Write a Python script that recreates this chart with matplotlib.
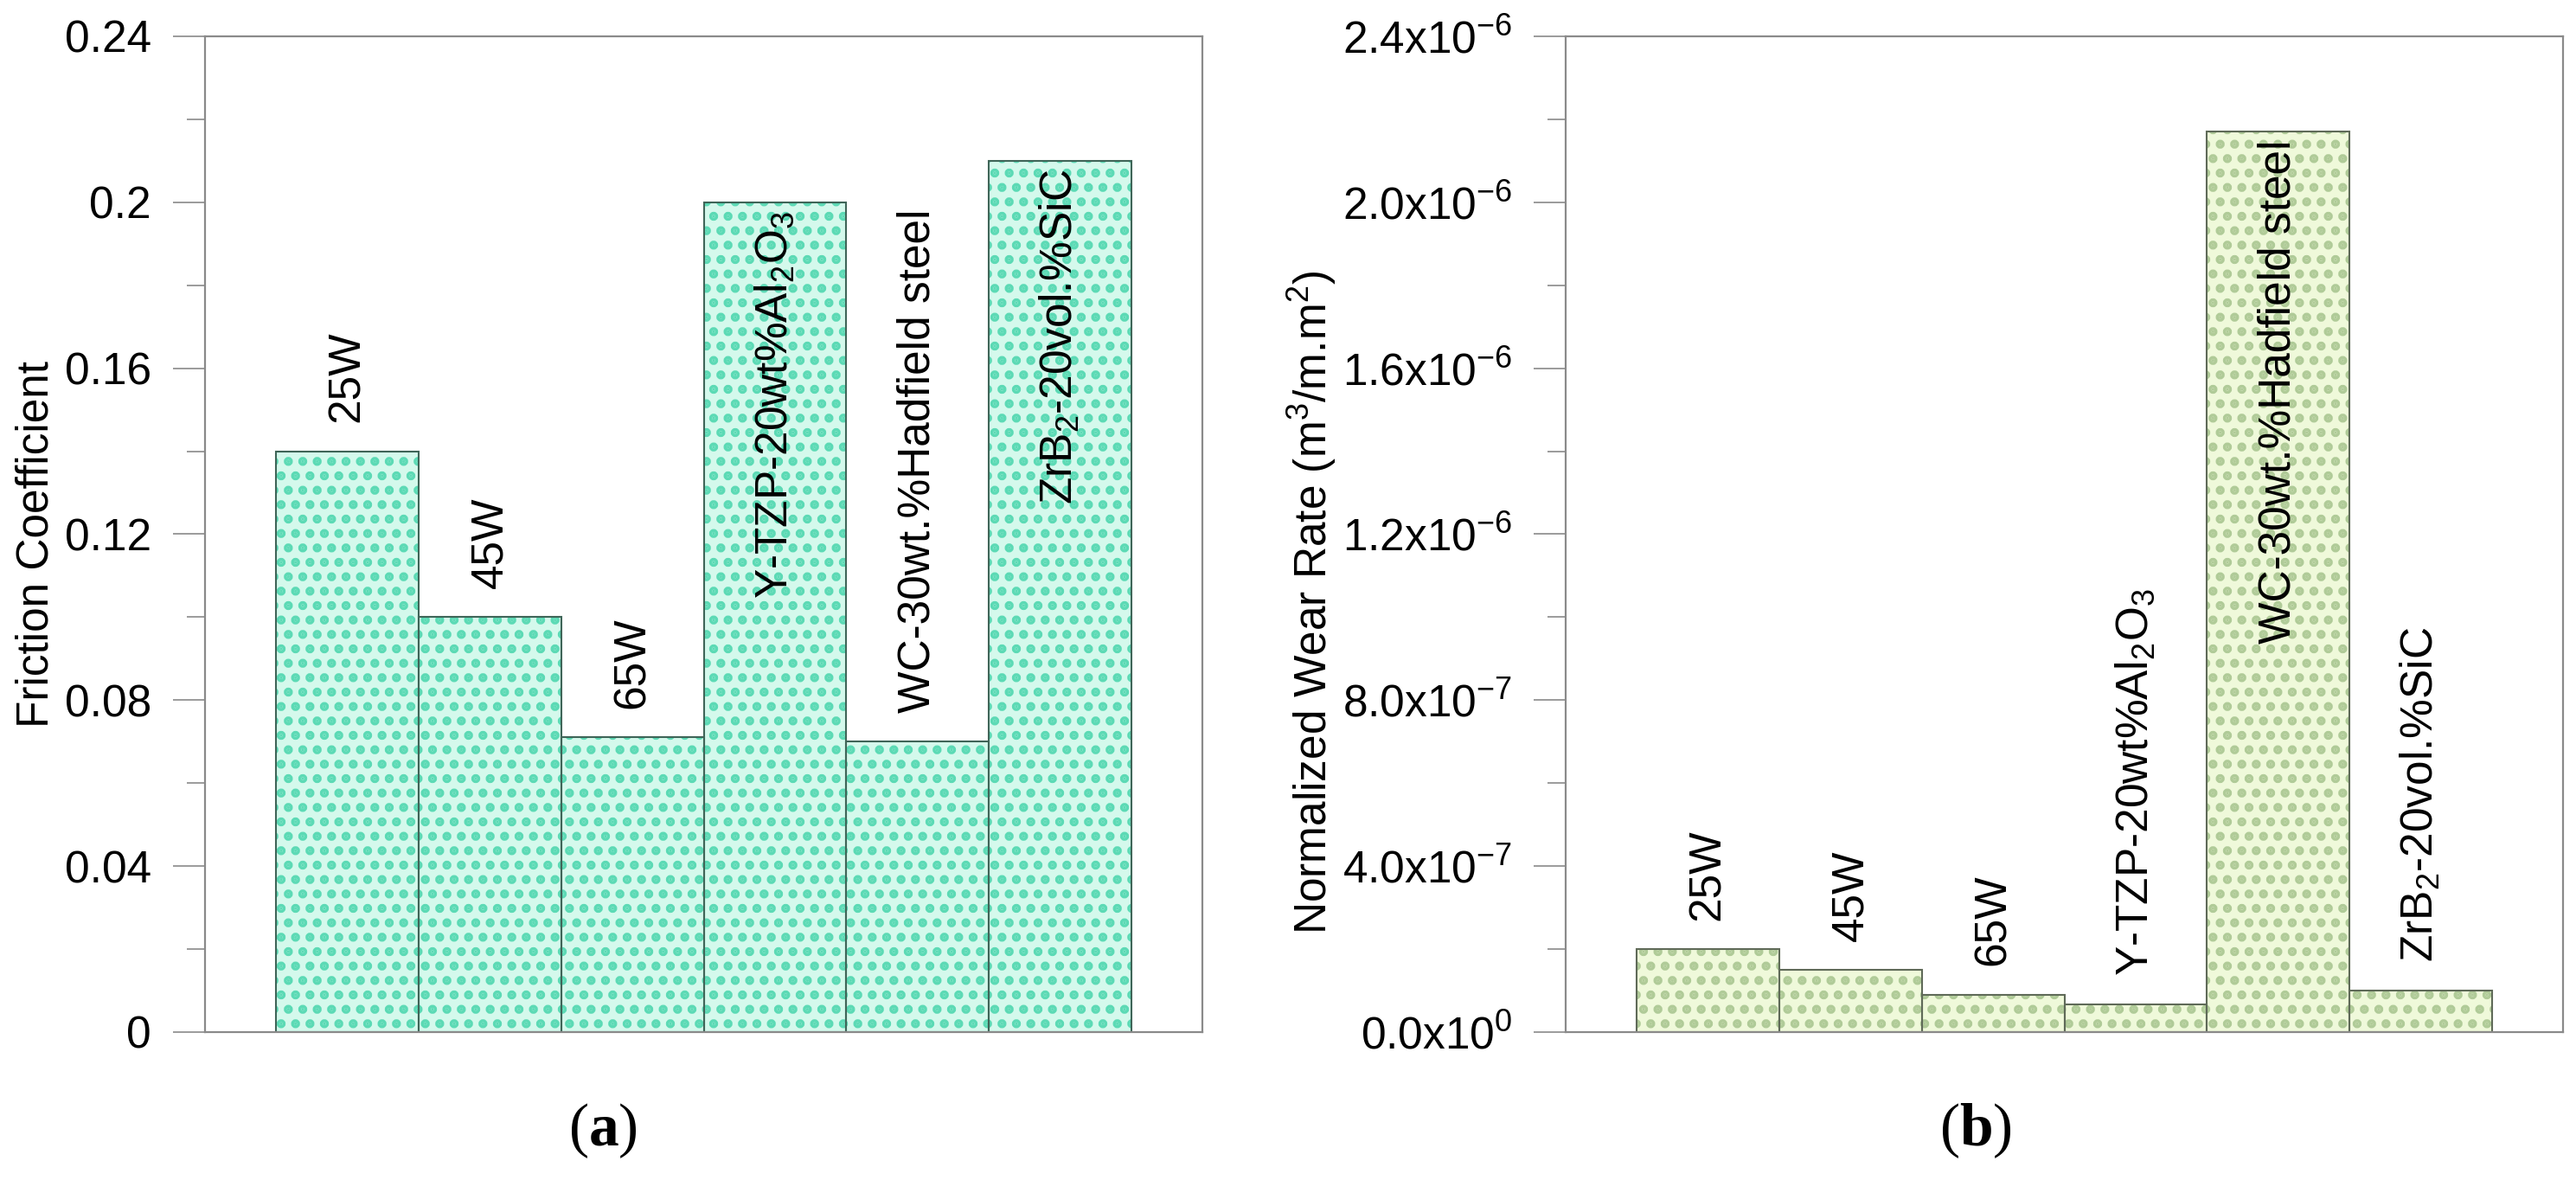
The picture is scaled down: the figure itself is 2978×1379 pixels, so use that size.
import matplotlib
matplotlib.use("Agg")
import matplotlib.pyplot as plt
from matplotlib.ticker import AutoMinorLocator

# data
samples = ["25W", "45W", "65W",
           r"Y-TZP-20wt%Al$_\mathregular{2}$O$_\mathregular{3}$",
           "WC-30wt.%Hadfield steel",
           r"ZrB$_\mathregular{2}$-20vol.%SiC"]
friction = [0.140, 0.100, 0.071, 0.200, 0.070, 0.210]
wear_rate = [2.0e-7, 1.5e-7, 0.9e-7, 0.67e-7, 2.17e-6, 0.99e-7]

friction_ticks = [0, 0.04, 0.08, 0.12, 0.16, 0.2, 0.24]
friction_ticklabels = ["0", "0.04", "0.08", "0.12", "0.16", "0.2", "0.24"]
wear_ticks = [0, 4e-7, 8e-7, 1.2e-6, 1.6e-6, 2.0e-6, 2.4e-6]
wear_ticklabels = [r"0.0x10$^\mathregular{0}$", r"4.0x10$^\mathregular{-7}$",
                   r"8.0x10$^\mathregular{-7}$", r"1.2x10$^\mathregular{-6}$",
                   r"1.6x10$^\mathregular{-6}$", r"2.0x10$^\mathregular{-6}$",
                   r"2.4x10$^\mathregular{-6}$"]

plt.rcParams['font.family'] = ['Liberation Sans', 'DejaVu Sans']
plt.rcParams['mathtext.fontset'] = 'custom'
plt.rcParams['mathtext.rm'] = 'Liberation Sans'
plt.rcParams['mathtext.bf'] = 'Liberation Serif:bold'
plt.rcParams['hatch.linewidth'] = 5

FS = 37
AXCOL = '#8a8a8a'

fig = plt.figure(figsize=(29.78, 13.79), dpi=100)
ax1 = fig.add_axes([0.0796, 0.1349, 0.3872, 0.8347])
ax2 = fig.add_axes([0.6078, 0.1349, 0.3872, 0.8347])

x = list(range(1, len(samples) + 1))


def draw_panel(ax, vals, ticks, ticklabels, ylabel, face, dots, edge, lab_xy):
    ymax = ticks[-1]
    # dotted fill first, then the outlines on top
    ax.bar(x, vals, width=1.0, color=face, edgecolor=dots, linewidth=0, hatch='.')
    ax.bar(x, vals, width=1.0, fill=False, edgecolor=edge, linewidth=1.5)
    for xi, v, s in zip(x, vals, samples):
        if v > 0.75 * ymax:
            ax.annotate(s, (xi, v), xytext=(0, -7), textcoords='offset points',
                        rotation=90, ha='center', va='top', fontsize=FS)
        else:
            ax.annotate(s, (xi, v), xytext=(0, 24), textcoords='offset points',
                        rotation=90, ha='center', va='bottom', fontsize=FS)
    ax.set_xlim(0, 7)
    ax.set_ylim(0, ymax)
    ax.set_xticks([])
    ax.set_yticks(ticks)
    ax.set_yticklabels(ticklabels)
    ax.yaxis.set_minor_locator(AutoMinorLocator(2))
    ax.tick_params(axis='y', which='major', direction='out', length=26.6,
                   width=1.2, color=AXCOL, pad=18, labelsize=FS)
    ax.tick_params(axis='y', which='minor', direction='out', length=15,
                   width=1.2, color=AXCOL)
    for sp in ax.spines.values():
        sp.set_color(AXCOL)
        sp.set_linewidth(1.6)
    ax.set_ylabel(ylabel, fontsize=FS)
    ax.yaxis.set_label_coords(*lab_xy)


draw_panel(ax1, friction, friction_ticks, friction_ticklabels,
           "Friction Coefficient", '#d4f9ec', '#5cdab5', '#3f6558',
           (-0.148, 0.49))
draw_panel(ax2, wear_rate, wear_ticks, wear_ticklabels,
           r"Normalized Wear Rate (m$^\mathregular{3}$/m.m$^\mathregular{2}$)",
           '#eff9da', '#b0cb98', '#5f6a58', (-0.228, 0.432))

fig.text(0.234, 0.052, r"($\mathbf{a}$)", family='Liberation Serif',
         fontsize=50, ha='center', va='center')
fig.text(0.767, 0.052, r"($\mathbf{b}$)", family='Liberation Serif',
         fontsize=50, ha='center', va='center')

fig.savefig("out.png", dpi=100, facecolor='white')
